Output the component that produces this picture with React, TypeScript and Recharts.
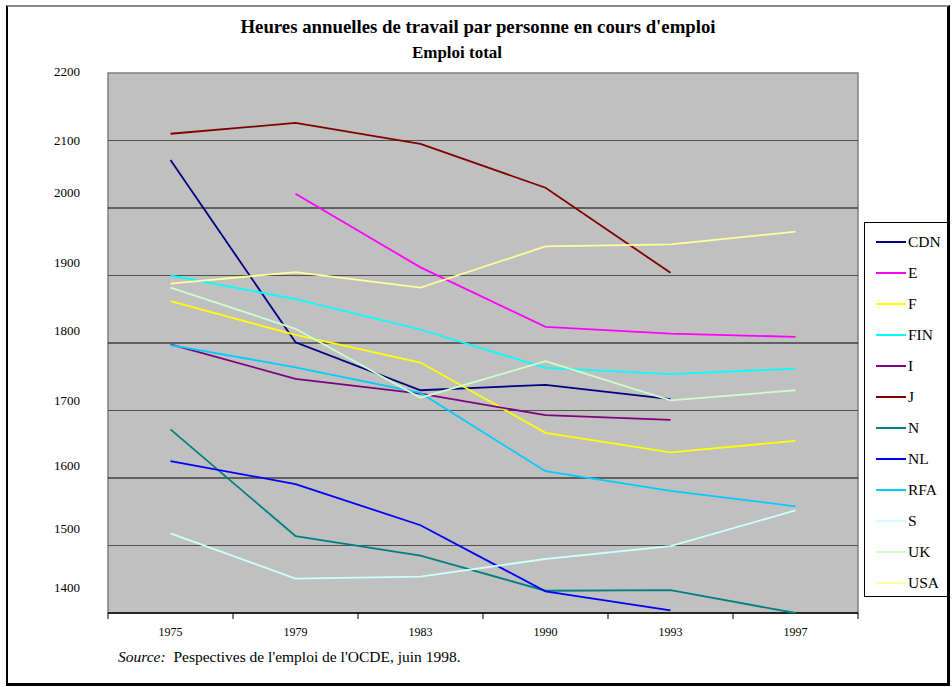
import React from 'react';
import { LineChart, Line, XAxis, YAxis, ReferenceLine, ReferenceArea } from 'recharts';

const years = ['1975', '1979', '1983', '1990', '1993', '1997'];
const seriesNames = ['CDN', 'E', 'F', 'FIN', 'I', 'J', 'N', 'NL', 'RFA', 'S', 'UK', 'USA'];
const seriesColors = ['#000080', '#FF00FF', '#FFFF00', '#00FFFF', '#800080', '#800000', '#008080', '#0000FF', '#00CCFF', '#CCFFFF', '#CCFFCC', '#FFFF99'];

const CDN = [2071, 1801, 1730, 1738, 1717, null];
const E = [null, 2021, 1912, 1824, 1814, 1809];
const F = [1862, 1812, 1771, 1667, 1638, 1655];
const FIN = [1900, 1865, 1820, 1763, 1754, 1762];
const I = [1798, 1747, 1725, 1693, 1686, null];
const J = [2110, 2126, 2095, 2030, 1904, null];
const N = [1672, 1514, 1485, 1433, 1434, 1400];
const NL = [1625, 1591, 1530, 1432, 1404, null];
const RFA = [1797, 1764, 1726, 1610, 1581, 1558];
const S = [1518, 1451, 1454, 1480, 1499, 1552];
const UK = [1882, 1821, 1719, 1773, 1715, 1730];
const USA = [1888, 1905, 1882, 1943, 1946, 1965];

const seriesValues = [CDN, E, F, FIN, I, J, N, NL, RFA, S, UK, USA];

const yTicks = [1400, 1500, 1600, 1700, 1800, 1900, 2000, 2100, 2200];
const gridValues = [1500, 1600, 1700, 1800, 1900, 2000, 2100];

const data = years.map((year, i) => {
  const row: Record<string, any> = { x: i, year };
  seriesNames.forEach((name, k) => {
    row[name] = seriesValues[k][i];
  });
  return row;
});

const xTicks: number[] = [];
for (let i = 0; i < years.length; i++) {
  xTicks.push(i - 0.5);
  xTicks.push(i);
}
xTicks.push(years.length - 0.5);

const FONT = "'Liberation Serif', 'Times New Roman', Times, serif";

// vertical shift of each y label relative to its gridline (the reference's labels are offset)
const Y_LABEL_SHIFT: Record<number, number> = {
  2200: -1.5, 2100: 0, 2000: -16, 1900: -13, 1800: -13, 1700: -10, 1600: -13, 1500: -17, 1400: -26,
};

function YTick(props: any) {
  const { y, payload } = props;
  const off = Y_LABEL_SHIFT[payload.value] ?? 0;
  return (
    <text x={80} y={y + off} textAnchor="end" dominantBaseline="central" fontFamily={FONT} fontSize={13} fill="#000">
      {payload.value}
    </text>
  );
}

function XTick(props: any) {
  const { x, y, payload } = props;
  const v = payload.value;
  if (Math.abs(v - Math.round(v)) > 0.1) {
    return <line x1={x} x2={x} y1={y} y2={y + 6} stroke="#000" strokeWidth={1} />;
  }
  return (
    <text x={x} y={y + 19} textAnchor="middle" dominantBaseline="central" fontFamily={FONT} fontSize={12} fill="#000">
      {years[Math.round(v)]}
    </text>
  );
}

export default function App() {
  return (
    <div style={{ position: 'absolute', left: 0, top: 0, width: 952, height: 687, background: '#fff', overflow: 'hidden' }}>
      <div
        style={{
          position: 'absolute', left: 6, top: 5, width: 944, height: 681, boxSizing: 'border-box',
          borderLeft: '2px solid #000', borderTop: '2px solid #8a8a8a', borderRight: '3px solid #000', borderBottom: '3px solid #000',
        }}
      />
      <div style={{ position: 'absolute', left: 0, top: 0 }}>
        <LineChart width={952} height={687} data={data} margin={{ top: 73, right: 94, bottom: 44, left: 48 }}>
          <XAxis
            dataKey="x"
            type="number"
            domain={[-0.5, 5.5]}
            ticks={xTicks}
            interval={0}
            tick={<XTick />}
            tickLine={false}
            tickSize={0}
            tickMargin={0}
            axisLine={false}
            height={30}
          />
          <YAxis
            type="number"
            domain={[1400, 2200]}
            ticks={yTicks}
            interval={0}
            tick={<YTick />}
            tickLine={false}
            axisLine={false}
            width={60}
          />
          <ReferenceArea x1={-0.5} x2={5.5} y1={1400} y2={2200} fill="#C0C0C0" fillOpacity={1} stroke="#808080" strokeWidth={1.5} />
          {gridValues.map((v, i) => (
            <ReferenceLine key={v} y={v} stroke={i % 2 === 0 ? '#505050' : '#000'} strokeWidth={1.2} />
          ))}
          <ReferenceLine y={1400} stroke="#000" strokeWidth={1.5} />
          {seriesNames.map((name, k) => (
            <Line
              key={name}
              dataKey={name}
              stroke={seriesColors[k]}
              strokeWidth={1.8}
              dot={false}
              activeDot={false}
              isAnimationActive={false}
              type="linear"
            />
          ))}
        </LineChart>
      </div>
      <div style={{ position: 'absolute', left: 478, top: 16, transform: 'translateX(-50%)', whiteSpace: 'nowrap', fontFamily: FONT, fontWeight: 'bold', fontSize: 18.8, lineHeight: '22px' }}>
        Heures annuelles de travail par personne en cours d'emploi
      </div>
      <div style={{ position: 'absolute', left: 457, top: 43, transform: 'translateX(-50%)', whiteSpace: 'nowrap', fontFamily: FONT, fontWeight: 'bold', fontSize: 17, lineHeight: '20px' }}>
        Emploi total
      </div>
      <div style={{ position: 'absolute', left: 864, top: 222, width: 84, height: 375, boxSizing: 'border-box', border: '1px solid #000', background: '#fff' }}>
        {seriesNames.map((name, k) => (
          <div key={name} style={{ position: 'absolute', left: 0, top: 19 + k * 31 - 10, height: 20, width: 84 }}>
            <div style={{ position: 'absolute', left: 11, top: 9, width: 30, height: 2, background: seriesColors[k] }} />
            <div style={{ position: 'absolute', left: 43, top: 0, lineHeight: '20px', fontFamily: FONT, fontSize: 15.5, color: '#000' }}>{name}</div>
          </div>
        ))}
      </div>
      <div style={{ position: 'absolute', left: 118, top: 647, whiteSpace: 'nowrap', fontFamily: FONT, fontSize: 15.5, lineHeight: '20px' }}>
        <i>Source:</i>&nbsp; Pespectives de l'emploi de l'OCDE, juin 1998.
      </div>
    </div>
  );
}
